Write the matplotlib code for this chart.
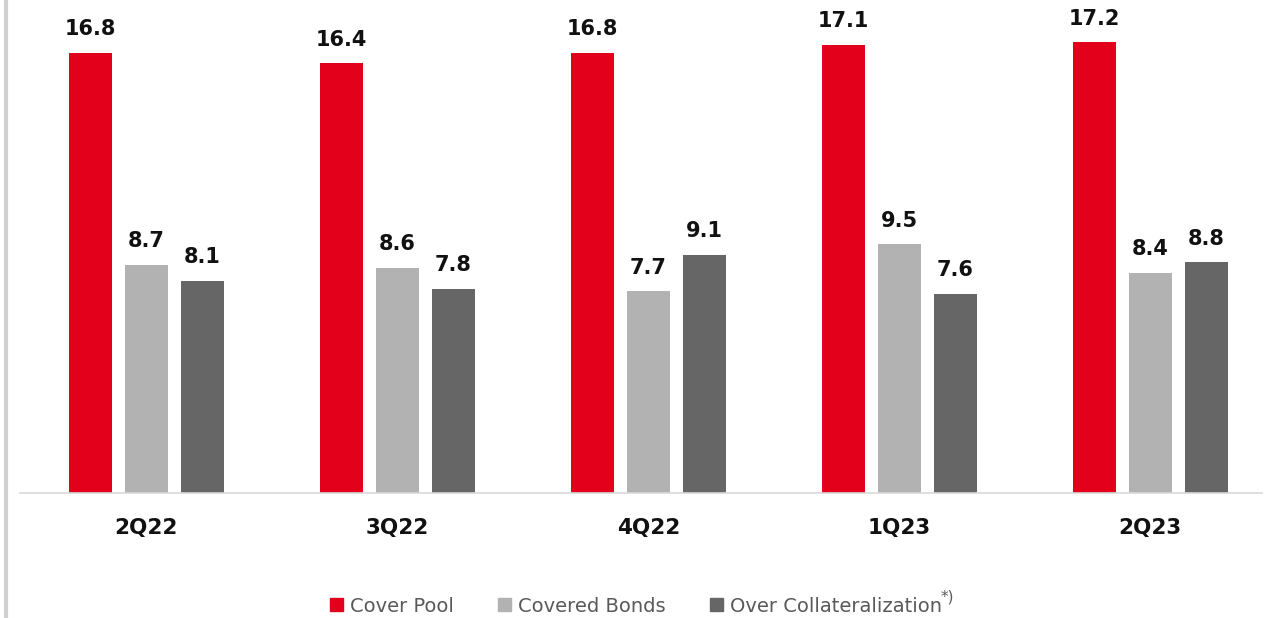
import numpy as np
import matplotlib.pyplot as plt
from matplotlib.patches import Patch
from matplotlib.lines import Line2D

# Quarterly values
quarters = ["2Q22", "3Q22", "4Q22", "1Q23", "2Q23"]
cover_pool = [16.8, 16.4, 16.8, 17.1, 17.2]
covered_bonds = [8.7, 8.6, 7.7, 9.5, 8.4]
over_collat = [8.1, 7.8, 9.1, 7.6, 8.8]

series = [
    ("Cover Pool", cover_pool, "#E2001A"),
    ("Covered Bonds", covered_bonds, "#B2B2B2"),
    ("Over Collateralization", over_collat, "#666666"),
]

plt.rcParams['font.family'] = ['DejaVu Sans']

fig = plt.figure(figsize=(12.71, 6.18), dpi=100)
ax = fig.add_axes([20 / 1271, 125 / 618, 1242 / 1271, 493 / 618])

x = np.arange(len(quarters))
width = 0.172
step = 0.223

for i, (name, vals, col) in enumerate(series):
    pos = x + (i - 1) * step
    bars = ax.bar(pos, vals, width, color=col, label=name)
    for b, v in zip(bars, vals):
        ax.text(b.get_x() + b.get_width() / 2, v + 0.52, f"{v:.1f}",
                ha="center", va="bottom", fontsize=15, fontweight="bold",
                color="#111111")

ax.set_xlim(-0.503, 4.445)
ax.set_ylim(0, 18.82)
for s in ["top", "right", "left"]:
    ax.spines[s].set_visible(False)
ax.spines["bottom"].set_color("#D9D9D9")
ax.spines["bottom"].set_linewidth(1.2)
ax.set_yticks([])
ax.set_xticks(x)
ax.set_xticklabels(quarters, fontsize=15.5, fontweight="bold", color="#111111")
ax.tick_params(axis="x", length=0, pad=18)

# thin gray rule along the left edge
fig.add_artist(Line2D([6 / 1271, 6 / 1271], [0, 1], color="#D0D0D0",
                      linewidth=3, transform=fig.transFigure))

handles = [Patch(color=c, label=n) for n, _, c in series]
leg = fig.legend(handles=handles, loc="center",
                 bbox_to_anchor=(636 / 1271, 1 - 606 / 618),
                 ncol=3, frameon=False, fontsize=14, handlelength=0.65,
                 handleheight=0.65, handletextpad=0.35, columnspacing=2.3,
                 labelcolor="#595959")

# footnote marker after the last legend entry
fig.canvas.draw()
bb = leg.get_texts()[-1].get_window_extent()
fig.text((bb.x1 - 1) / 1271, (bb.y1 - 1) / 618, "*)", fontsize=11,
         color="#595959", ha="left", va="center")

fig.savefig("out.png", dpi=100)
